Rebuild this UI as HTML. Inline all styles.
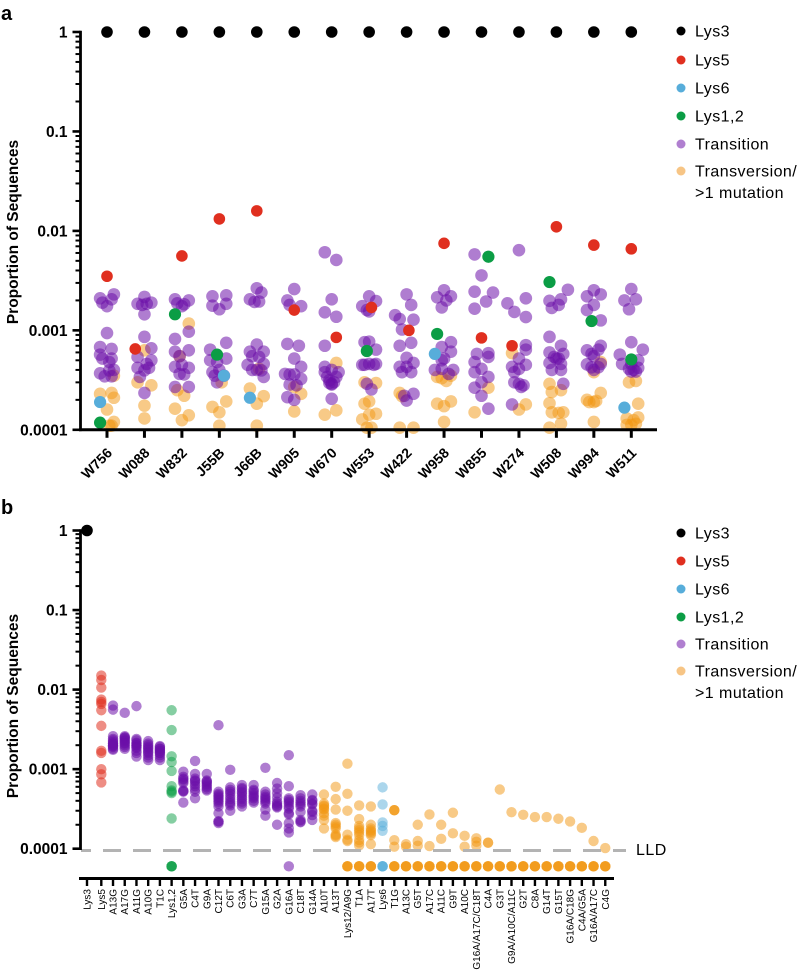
<!DOCTYPE html>
<html lang="en">
<head>
<meta charset="utf-8">
<title>Proportion of Sequences</title>
<style>
html,body{margin:0;padding:0;background:#fff;width:797px;height:973px;overflow:hidden}
svg{display:block}
text{font-family:"Liberation Sans",Arial,sans-serif;fill:#000}
.tick{font-weight:700;font-size:15.5px;text-anchor:end}
.ytitle{font-weight:700;font-size:15.5px;text-anchor:middle}
.xa{font-weight:700;font-size:14px;text-anchor:end}
.xb{font-size:10px;text-anchor:end}
.leg{font-size:16px;letter-spacing:.45px}
.panel{font-weight:700;font-size:20px}
</style>
</head>
<body>
<svg id="figure" xmlns="http://www.w3.org/2000/svg" width="797" height="973" viewBox="0 0 797 973">
  <text class="panel" x="1" y="20">a</text>
  <text class="panel" x="1" y="514">b</text>
  <text class="ytitle" transform="translate(18,232) rotate(-90)">Proportion of Sequences</text>
  <text class="ytitle" transform="translate(18,706) rotate(-90)">Proportion of Sequences</text>

  <g>
    <circle cx="681" cy="31" r="4.5" fill="#000"/>
    <text class="leg" x="695" y="36.5">Lys3</text>
    <circle cx="681" cy="60" r="4.5" fill="#E02F1F"/>
    <text class="leg" x="695" y="65.5">Lys5</text>
    <circle cx="681" cy="88" r="4.5" fill="#57ADDA"/>
    <text class="leg" x="695" y="93.5">Lys6</text>
    <circle cx="681" cy="116" r="4.5" fill="#0B9D45"/>
    <text class="leg" x="695" y="121.5">Lys1,2</text>
    <circle cx="681" cy="144" r="4.5" fill="#B07FD0"/>
    <text class="leg" x="695" y="149.5">Transition</text>
    <circle cx="681" cy="171" r="4.5" fill="#F7C585"/>
    <text class="leg" x="695" y="176.5">Transversion/</text>
    <text class="leg" x="695" y="198">&gt;1 mutation</text>
  </g>
  <g>
    <circle cx="681" cy="533" r="4.5" fill="#000"/>
    <text class="leg" x="695" y="538.5">Lys3</text>
    <circle cx="681" cy="561" r="4.5" fill="#E02F1F"/>
    <text class="leg" x="695" y="566.5">Lys5</text>
    <circle cx="681" cy="589" r="4.5" fill="#57ADDA"/>
    <text class="leg" x="695" y="594.5">Lys6</text>
    <circle cx="681" cy="617" r="4.5" fill="#0B9D45"/>
    <text class="leg" x="695" y="622.5">Lys1,2</text>
    <circle cx="681" cy="644" r="4.5" fill="#B07FD0"/>
    <text class="leg" x="695" y="649.5">Transition</text>
    <circle cx="681" cy="671" r="4.5" fill="#F7C585"/>
    <text class="leg" x="695" y="676.5">Transversion/</text>
    <text class="leg" x="695" y="698">&gt;1 mutation</text>
  </g>
  <text class="leg" x="636" y="855">LLD</text>
</svg>
<script>
// All values are proportions expressed in units of 1e-4 (so 10000 = 1, 10 = 0.001).
const UNIT = 1e-4;
const yTickValues = [1, 0.1, 0.01, 0.001, 0.0001];
const yTickLabels = ['1', '0.1', '0.01', '0.001', '0.0001'];

// Panel a
const categoriesA = ['W756','W088','W832','J55B','J66B','W905','W670','W553','W422','W958','W855','W274','W508','W994','W511'];
const lys3A = [10000,10000,10000,10000,10000,10000,10000,10000,10000,10000,10000,10000,10000,10000,10000];
const lys5A = [35,6.5,56,132,159,16,8.5,17,10,75,8.4,7,110,72,66];
const lys5JitterA = [0,-4,0,0,0,0,2,1,1,0,0,-3,0,0,0];
const lys6A = [1.9,null,null,3.5,2.1,null,null,null,null,5.8,null,null,null,null,1.67];
const lys6JitterA = [-3,0,0,2,-3,0,0,0,0,-4,0,0,0,0,-3];
const lys12A = [1.18,null,14.5,5.7,null,null,null,6.2,null,9.2,55,null,30.6,12.4,5.1];
const lys12JitterA = [-3,0,-3,-1,0,0,0,-1,0,-3,3,0,-3,-1,0];
const transitionA = [
 [21,23,20.5,19,17.5,9.4,6.8,6.5,5.7,5.2,5.2,4.8,3.7,4,3.45,3.45,3.96],
 [18.5,21.7,19,18,18.5,14.5,8.6,6.6,5.4,5,4.6,4.2,4.2,3.96,3.4,2.35],
 [20.5,20,18.7,18.3,17.5,9.7,8.2,6.1,6.3,5.5,4.3,4.2,4.5,3.65,3.6,2.7,2.7],
 [22,22.5,18.5,17.7,16.3,7.5,6.4,5.2,5,4.8,3.8,4,3.5,3,3.5],
 [26.5,24,20.5,19.5,19.3,7.2,6.1,6.1,5.5,5.4,4.5,4.6,4,4,3.96,3.4],
 [26,20,17.5,18,7.3,7,5.2,4.3,3.65,3.6,3.25,3.6,2.85,2.8,2.13,2],
 [61,51,20.5,15.2,13.7,7,4.3,3.8,4,3.8,3.4,3.4,3.15,3,2.85,2.95,2.9,2.05],
 [22,19.7,17.5,16,15.5,7.6,7.7,6.4,4.5,4.6,4.6,4.5,4.5,2.9,2.55],
 [23,18,14.2,13,12.8,10.2,7,7.5,5.3,4.7,4.3,4.3,3.8,3.8,2.3,2.2,1.97],
 [25.3,22,21.5,20,17,7.6,6.8,6.1,5.2,5,4,4,3.65,4.1],
 [58,35.7,24.5,24,19.5,16.5,5.8,5.9,4.8,5.4,4.1,3.8,3.4,3,2.65,2.2,1.63],
 [64,18.7,21,15.3,13.6,7.1,6.4,5.2,4.5,4.3,4.1,3.8,3,2.8,2.9,2.7,1.8],
 [25.6,20.5,19.8,18,16.8,8.6,7,6,5.8,5.4,5.2,4.7,4.6,4,4,5.2,2.9],
 [25.3,23,22,18,16,12.6,7,6.3,6.4,5.8,5.5,4.55,4.6,4.25,4.25,4],
 [26,20.5,20,16.3,7.6,6.4,5.7,5,4.6,4.6,4.2,4.1,4,3.85,3.85]
];
const transitionJitterA = [
 [-3,3,2,-2,0,0,-3,2,-3,2,-2,1,-3,3,-1,2,1],
 [-3,0,3,-1,1,0,0,3,-3,3,1,-3,2,0,-2,0],
 [-3,3,-2,1,0,3,-3,-3,3,-1,-3,3,0,-1,1,-3,3],
 [-3,3,3,-3,0,3,-4,3,-4,-1,-3,0,2,-1,-2],
 [0,2,-3,1,-1,0,-3,3,-2,1,-4,3,-2,0,2,3],
 [0,-3,3,-2,-3,2,0,3,-4,-2,3,0,-2,1,-3,0],
 [-3,2,0,-3,2,-3,-3,-3,0,3,-2,2,-1,1,0,-1,0,0],
 [0,3,-3,-1,0,-2,0,3,-2,0,3,-3,2,-1,1],
 [0,2,-5,-3,3,-2,-3,2,0,3,-3,0,-2,2,3,-1,0],
 [0,3,-3,1,-1,3,-1,3,0,-1,-4,4,2,-1],
 [-3,0,-3,5,2,-3,-2,3,-3,3,0,-3,3,0,-3,0,3],
 [0,-5,3,-2,3,3,3,0,3,-3,0,-2,-2,2,0,1,-3],
 [5,2,-3,1,-2,-3,2,-3,3,-1,1,-3,2,-2,2,0,3],
 [0,3,-3,0,-3,3,3,-3,2,-1,0,-3,3,-1,2,0],
 [0,2,-3,-1,0,5,-5,3,-4,0,3,-1,1,0,2]
];
const transversionA = [
 [2.3,2.35,2.1,1.6,1.2,1.1,1.1,3.5],
 [6.3,3,2.8,1.75,1.3],
 [11.7,5.5,2.5,2.2,1.63,1.4,1.25],
 [1.7,1.5,1.93,1.1,3],
 [4.1,2.6,2.18,1.83,1.1],
 [2.3,1.53,2.7],
 [4.7,1.42,1.57],
 [3,2.95,1.83,1.93,1.45,1.27,1.42,1.05,1.05],
 [2.35,2.18,1.05,1.05],
 [3.4,3.1,3.3,3.5,1.83,1.93,1.73,1.2],
 [2.65,1.5],
 [5.9,1.8,1.6],
 [2.9,2.4,2.5,1.85,1.5,1.48,1.5,1.05,1.15],
 [4.8,3.8,2,2.35,1.9,1.9,1.95,1.2],
 [3,3.1,1.83,1.3,1.33,1.25,1.12,1.15,1.12]
];
const transversionJitterA = [
 [-3,2,3,0,3,1,2,3],
 [0,-3,3,0,0],
 [3,-1,-2,1,-3,3,0],
 [-3,0,3,0,1],
 [1,-3,3,0,0],
 [3,0,0],
 [2,-3,2],
 [-2,3,-2,0,3,-3,0,-1,1],
 [-3,-2,-3,3],
 [-3,1,-1,3,-3,3,0,0],
 [3,-3],
 [-3,3,0],
 [-3,-2,2,-3,-2,1,3,-3,2],
 [3,0,-3,3,0,-2,1,0],
 [-1,2,3,-2,3,1,-2,2,0]
];

// Panel b
const categoriesB = ['Lys3','Lys5','A13G','A17G','A11G','A10G','T1C','Lys1,2','G5A','C4T','G9A','C12T','C6T','G3A','C7T','G15A','G2A','G16A','C18T','G14A','A10T','A13T','Lys12/A9G','T1A','A17T','Lys6','T1G','A13C','G5T','A17C','A11C','G9T','A10C','G16A/A17C/C18T','C4A','G3T','G9A/A10C/A11C','G2T','C8A','G14T','G15T','G16A/C18G','C4A/G5A','G16A/A17C','C4G'];
const seriesB = ['lys3','lys5','transition','transition','transition','transition','transition','lys12','transition','transition','transition','transition','transition','transition','transition','transition','transition','transition','transition','transition','transversion','transversion','transversion','transversion','transversion','lys6','transversion','transversion','transversion','transversion','transversion','transversion','transversion','transversion','transversion','transversion','transversion','transversion','transversion','transversion','transversion','transversion','transversion','transversion','transversion'];
const valuesB = [
 [10000],
 [150,132,106,75,70,66,55,35,17,16,10,8.6,6.8],
 [63,56,26,24,23,22,21,21,20,20,19.5,19,18,17.5],
 [51,26,25,25,24,23,22.5,21.5,21,20,19,18],
 [62,24,23,21.5,21,20,20,19,18.5,17,16,14.4],
 [22.5,21,20,19,18.3,17.5,16.5,16,15,14,13],
 [19.5,19,18,18,17,17,16,16,15,14,13],
 [55,31,14.5,12.3,9.5,6.1,5.4,5.2,5,2.4,0.6,0.6,0.6,0.6],
 [9.3,8,7.6,7.4,7,6.7,5.4,5.3,5.2,3.8],
 [12.7,8.7,7.6,7.2,7,6.5,6.1,5.6,5.2,4.3],
 [8.7,7.2,7,6.8,6.5,6.2,5.9,5.6,5.4],
 [35.7,5.2,4.9,4.7,4.5,4.3,4.1,3.9,3.7,3.4,2.8,2.2,2.2,2.1],
 [9.8,5.9,5.5,5.2,4.9,4.5,4.2,3.9,3.7,3.5,3],
 [6.3,5.8,5.6,5.2,5,4.7,4.4,4.2,3.9,3.7,3.4],
 [6.3,5.5,5.3,5,4.7,4.5,4.3,4,3.8],
 [10.4,5.2,4.8,4.5,4.3,4.1,3.9,3.7,3.1,2.6],
 [6.7,5.7,5,4.4,3.9,3.7,3.5,3.4,3.3,2],
 [15,6.1,4.3,4.1,3.9,3.7,3.4,3.2,2.8,2.7,2.1,1.8,1.6,0.6],
 [4.7,4.3,4,3.8,3.6,3.4,2.9,2.3,2.2,2.15],
 [4.8,4.1,4,3.7,3.6,3,2.9,2.65,2.3],
 [4.8,3.7,3.5,3.4,3.2,3.1,2.8,2.6,2.3,1.8],
 [6,4.2,3.1,2.1,2,1.9,1.8,1.5,1.45,1.4],
 [11.7,4.9,3,1.5,1.3,1.25,0.6,0.6,0.6,0.6],
 [3.5,2.36,1.93,1.8,1.7,1.6,1.48,1.29,1.2,1.1,0.6,0.6,0.6,0.6],
 [3.4,2,1.8,1.7,1.63,1.55,1.48,1.14,0.6,0.6,0.6,0.6],
 [5.9,3.6,2.14,1.93,1.68,0.6,0.6,0.6,0.6],
 [3.05,3.05,3.05,1.28,1.06,0.6,0.6,0.6,0.6],
 [1.14,1.06,0.6,0.6,0.6,0.6],
 [2,1.25,1.09,0.6,0.6,0.6,0.6],
 [2.7,1.08,0.6,0.6,0.6,0.6],
 [2,1.33,0.6,0.6,0.6,0.6],
 [2.83,1.56,0.6,0.6,0.6,0.6],
 [1.45,1.06,0.6,0.6,0.6,0.6],
 [1.35,1.22,1.09,0.6,0.6,0.6,0.6],
 [1.19,1.19,0.6,0.6,0.6,0.6],
 [5.55,0.6,0.6,0.6,0.6],
 [2.88,0.6,0.6,0.6,0.6],
 [2.67,0.6,0.6,0.6,0.6],
 [2.5,0.6,0.6,0.6,0.6],
 [2.5,0.6,0.6,0.6,0.6],
 [2.38,0.6,0.6,0.6,0.6],
 [2.2,0.6,0.6,0.6,0.6],
 [1.83,0.6,0.6,0.6,0.6],
 [1.25,0.6,0.6,0.6,0.6],
 [1.02,0.6,0.6,0.6,0.6]
];
const lldValue = 0.95;

const NS = 'http://www.w3.org/2000/svg';
const svg = document.getElementById('figure');

const yA = function (v) { return 32 + 99.45 * (-Math.log10(v)); };
const yB = function (v) { return 530.5 + 79.55 * (-Math.log10(v)); };
const xA = function (i) { return 107 + 37.45 * i; };
const xB = function (i) { return i === 0 ? 87 : 101.3 + 11.72 * (i - 1); };
const JITTER_PX = 2.3;

const SOLID = { lys3: '#000000', lys5: '#E02F1F', lys6: '#57ADDA', lys12: '#0B9D45', transition: '#6B0FA8', transversion: '#F2950F' };
const OPACITY_A = { lys3: 1, lys5: 1, lys6: 1, lys12: 1, transition: 0.54, transversion: 0.5 };
const OPACITY_B = { lys3: 1, lys5: 0.55, lys6: 0.5, lys12: 0.5, transition: 0.54, transversion: 0.5 };

function line(parent, x1, y1, x2, y2, w, name, color) {
  const el = document.createElementNS(NS, 'line');
  el.setAttribute('x1', x1);
  el.setAttribute('y1', y1);
  el.setAttribute('x2', x2);
  el.setAttribute('y2', y2);
  el.setAttribute('stroke', color || '#000');
  el.setAttribute('stroke-width', w);
  
  
  parent.appendChild(el);
  return el;
}
function dot(parent, cx, cy, r, fill, opacity, name) {
  const el = document.createElementNS(NS, 'circle');
  el.setAttribute('cx', cx.toFixed(2));
  el.setAttribute('cy', cy.toFixed(2));
  el.setAttribute('r', r);
  el.setAttribute('fill', fill);
  el.setAttribute('fill-opacity', opacity);
  
  
  parent.appendChild(el);
}
function group(name) {
  const el = document.createElementNS(NS, 'g');
  
  
  svg.appendChild(el);
  return el;
}
function label(parent, str, cls, x, y, rot, name) {
  const el = document.createElementNS(NS, 'text');
  el.setAttribute('class', cls);
  if (rot) {
    el.setAttribute('transform', 'translate(' + x + ',' + y + ') rotate(' + rot + ')');
  } else {
    el.setAttribute('x', x);
    el.setAttribute('y', y);
  }
  el.textContent = str;
  
  
  parent.appendChild(el);
}
function yAxis(parent, yScale, x) {
  line(parent, x, yScale(1) - 1.3, x, yScale(yTickValues[yTickValues.length - 1]) + 1.3, 2.8, 'y-axis-line');
  yTickValues.forEach(function (t, k) {
    line(parent, x - 8, yScale(t), x, yScale(t), 2.6, 'y-tick-major');
    label(parent, yTickLabels[k], 'tick', x - 13, yScale(t) + 5.5, 0, 'y-tick-label');
    if (k < yTickValues.length - 1) {
      for (let m = 2; m <= 9; m++) {
        line(parent, x - 5, yScale(t / 10 * m), x, yScale(t / 10 * m), 2, 'y-tick-minor');
      }
    }
  });
}

/* ---------- panel a ---------- */
const gA = group('panel-a-chart');
function swarmA(values, jitters, key) {
  values.forEach(function (col, i) {
    col.forEach(function (v, j) {
      dot(gA, xA(i) + jitters[i][j] * JITTER_PX, yA(v * UNIT), 6.3, SOLID[key], OPACITY_A[key], key + '-point-' + categoriesA[i].toLowerCase());
    });
  });
}
function singleA(values, jitters, key, r) {
  values.forEach(function (v, i) {
    if (v === null) return;
    dot(gA, xA(i) + jitters[i] * JITTER_PX, yA(v * UNIT), r, SOLID[key], OPACITY_A[key], key + '-point-' + categoriesA[i].toLowerCase());
  });
}
swarmA(transversionA, transversionJitterA, 'transversion');
swarmA(transitionA, transitionJitterA, 'transition');
singleA(lys6A, lys6JitterA, 'lys6', 6.1);
singleA(lys12A, lys12JitterA, 'lys12', 6.1);
singleA(lys5A, lys5JitterA, 'lys5', 5.8);
singleA(lys3A, lys3A.map(function () { return 0; }), 'lys3', 5.8);

yAxis(gA, yA, 80.5);
line(gA, 79, yA(1e-4), 657, yA(1e-4), 3, 'x-axis-line');
categoriesA.forEach(function (c, i) {
  line(gA, xA(i), yA(1e-4), xA(i), yA(1e-4) + 8, 3, 'x-tick');
  label(gA, c, 'xa', xA(i) + 6, yA(1e-4) + 24, -45, 'x-tick-label-' + c.toLowerCase());
});

/* ---------- panel b ---------- */
const gB = group('panel-b-chart');
valuesB.forEach(function (col, i) {
  const key = seriesB[i];
  col.forEach(function (v) {
    const r = key === 'lys3' ? 5.8 : 5.2;
    dot(gB, xB(i), yB(v * UNIT), r, SOLID[key], OPACITY_B[key], key + '-point');
  });
});
const lld = line(gB, 81, yB(lldValue * UNIT), 626, yB(lldValue * UNIT), 3, 'lld-line', '#B3B3B3');
lld.setAttribute('stroke-dasharray', '18 12');
lld.setAttribute('stroke-dashoffset', '8');

yAxis(gB, yB, 80.5);
line(gB, 79, 878.5, 614, 878.5, 3, 'x-axis-line');
categoriesB.forEach(function (c, i) {
  line(gB, xB(i), 878.5, xB(i), 886, 2.4, 'x-tick');
  label(gB, c, 'xb', xB(i) + 3.5, 889, -90, 'x-tick-label');
});
</script>
</body>
</html>
